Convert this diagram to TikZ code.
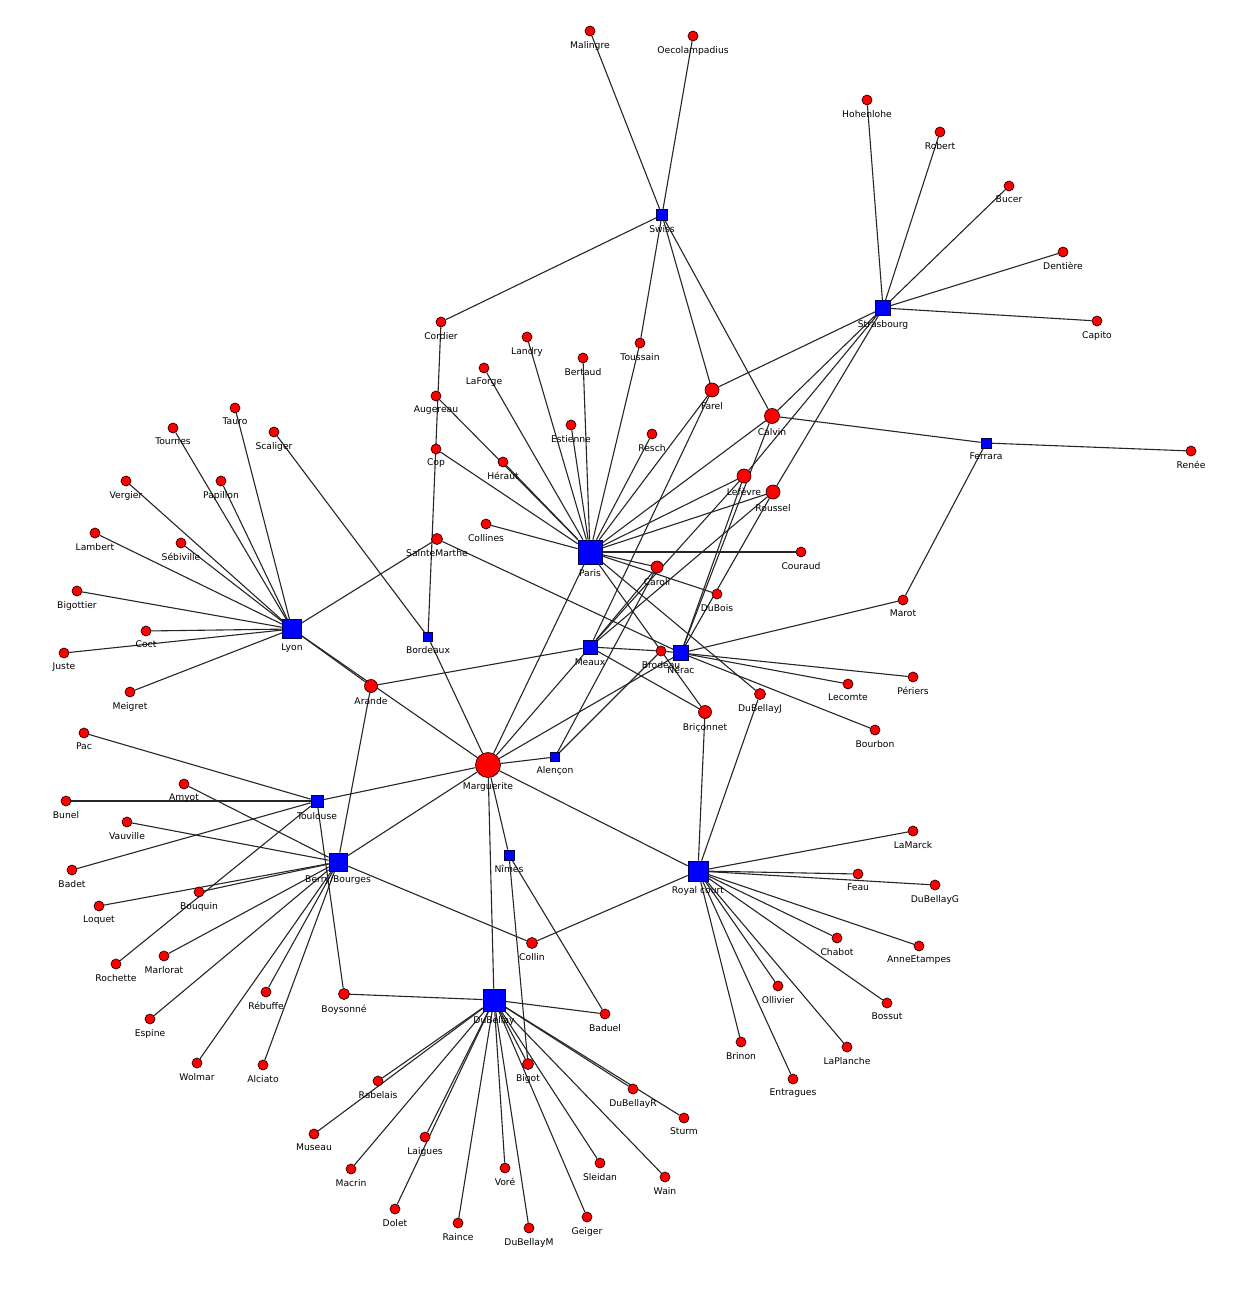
\documentclass[tikz,border=0pt]{standalone}
\usepackage{fontspec}
\setmainfont{DejaVu Sans}
\usetikzlibrary{backgrounds}
\newcommand\lblfont{\fontsize{4.6}{5}\selectfont}
\begin{document}
\begin{tikzpicture}[x=0.5pt,y=-0.5pt,
  person/.style={circle, draw=black!85!red, line width=0.35pt, fill=red, inner sep=0pt, minimum size=#1},
  person/.default=5pt,
  place/.style={rectangle, draw=black!70!blue, line width=0.35pt, fill=blue, inner sep=0pt, minimum size=#1},
  place/.default=5pt,
  tie/.style={draw=black!85, line width=0.55pt},
  every label/.style={font=\lblfont, inner sep=0pt, text=black},
  label distance=2.2pt]
\useasboundingbox (0,0) rectangle (1242,1316);
% places
\node[place=5.5pt, label=below:Swiss] (swiss) at (662,215) {};
\node[place=7.5pt, label=below:Strasbourg] (stras) at (883,308) {};
\node[place=5pt, label=below:Ferrara] (ferrara) at (986,443) {};
\node[place=12pt, label=below:Paris] (paris) at (590,552) {};
\node[place=4.5pt, label=below:Bordeaux] (bordeaux) at (428,637) {};
\node[place=9.5pt, label=below:Lyon] (lyon) at (292,629) {};
\node[place=7pt, label=below:Meaux] (meaux) at (590,647) {};
\node[place=7.5pt, label=below:Nérac] (nerac) at (681,653) {};
\node[place=4.5pt, label=below:Alençon] (alencon) at (555,757) {};
\node[place=6pt, label=below:Toulouse] (toulouse) at (317,801) {};
\node[place=9pt, label=below:Berry/Bourges] (bb) at (338,862) {};
\node[place=5pt, label=below:Nîmes] (nimes) at (509,855) {};
\node[place=10pt, label=below:Royal court] (royal) at (698,871) {};
\node[place=11pt, label=below:DuBellay] (dubellay) at (494,1000) {};
% persons
\node[person, label=below:Malingre] (malingre) at (590,31) {};
\node[person, label=below:Oecolampadius] (oeco) at (693,36) {};
\node[person, label=below:Cordier] (cordier) at (441,322) {};
\node[person, label=below:Landry] (landry) at (527,337) {};
\node[person, label=below:Toussain] (toussain) at (640,343) {};
\node[person, label=below:Bertaud] (bertaud) at (583,358) {};
\node[person, label=below:LaForge] (laforge) at (484,368) {};
\node[person=7pt, label=below:Farel] (farel) at (712,390) {};
\node[person, label=below:Augereau] (augereau) at (436,396) {};
\node[person=7.5pt, label=below:Calvin] (calvin) at (772,416) {};
\node[person, label=below:Estienne] (estienne) at (571,425) {};
\node[person, label=below:Resch] (resch) at (652,434) {};
\node[person, label=below:Cop] (cop) at (436,449) {};
\node[person, label=below:Héraut] (heraut) at (503,462) {};
\node[person=7pt, label=below:Lefèvre] (lefevre) at (744,476) {};
\node[person=7pt, label=below:Roussel] (roussel) at (773,492) {};
\node[person, label=below:Collines] (collines) at (486,524) {};
\node[person=5.5pt, label=below:SainteMarthe] (saintemarthe) at (437,539) {};
\node[person, label=below:Couraud] (couraud) at (801,552) {};
\node[person=6pt, label=below:Caroli] (caroli) at (657,567) {};
\node[person, label=below:DuBois] (dubois) at (717,594) {};
\node[person, label=below:Brodeau] (brodeau) at (661,651) {};
\node[person=6.5pt, label=below:Briçonnet] (briconnet) at (705,712) {};
\node[person=5.5pt, label=below:DuBellayJ] (dubellayj) at (760,694) {};
\node[person, label=below:Hohenlohe] (hohen) at (867,100) {};
\node[person, label=below:Robert] (robert) at (940,132) {};
\node[person, label=below:Bucer] (bucer) at (1009,186) {};
\node[person, label=below:Dentière] (dentiere) at (1063,252) {};
\node[person, label=below:Capito] (capito) at (1097,321) {};
\node[person, label=below:Renée] (renee) at (1191,451) {};
\node[person, label=below:Tauro] (tauro) at (235,408) {};
\node[person, label=below:Tournes] (tournes) at (173,428) {};
\node[person, label=below:Scaliger] (scaliger) at (274,432) {};
\node[person, label=below:Vergier] (vergier) at (126,481) {};
\node[person, label=below:Papillon] (papillon) at (221,481) {};
\node[person, label=below:Lambert] (lambert) at (95,533) {};
\node[person, label=below:Sébiville] (sebiville) at (181,543) {};
\node[person, label=below:Bigottier] (bigottier) at (77,591) {};
\node[person, label=below:Coct] (coct) at (146,631) {};
\node[person, label=below:Juste] (juste) at (64,653) {};
\node[person, label=below:Meigret] (meigret) at (130,692) {};
\node[person=6.5pt, label=below:Arande] (arande) at (371,686) {};
\node[person, label=below:Pac] (pac) at (84,733) {};
\node[person, label=below:Amyot] (amyot) at (184,784) {};
\node[person, label=below:Bunel] (bunel) at (66,801) {};
\node[person, label=below:Vauville] (vauville) at (127,822) {};
\node[person, label=below:Badet] (badet) at (72,870) {};
\node[person, label=below:Loquet] (loquet) at (99,906) {};
\node[person, label=below:Bouquin] (bouquin) at (199,892) {};
\node[person, label=below:Rochette] (rochette) at (116,964) {};
\node[person, label=below:Marlorat] (marlorat) at (164,956) {};
\node[person, label=below:Rébuffe] (rebuffe) at (266,992) {};
\node[person=5.5pt, label=below:Boysonné] (boysonne) at (344,994) {};
\node[person, label=below:Espine] (espine) at (150,1019) {};
\node[person, label=below:Wolmar] (wolmar) at (197,1063) {};
\node[person, label=below:Alciato] (alciato) at (263,1065) {};
\node[person=12.5pt, label=below:Marguerite] (marguerite) at (488,765) {};
\node[person=5.5pt, label=below:Collin] (collin) at (532,943) {};
\node[person, label=below:Baduel] (baduel) at (605,1014) {};
\node[person=5.5pt, label=below:Bigot] (bigot) at (528,1064) {};
\node[person, label=below:Rabelais] (rabelais) at (378,1081) {};
\node[person, label=below:DuBellayR] (dubellayr) at (633,1089) {};
\node[person, label=below:Sturm] (sturm) at (684,1118) {};
\node[person, label=below:Museau] (museau) at (314,1134) {};
\node[person, label=below:Laigues] (laigues) at (425,1137) {};
\node[person, label=below:Macrin] (macrin) at (351,1169) {};
\node[person, label=below:Voré] (vore) at (505,1168) {};
\node[person, label=below:Sleidan] (sleidan) at (600,1163) {};
\node[person, label=below:Wain] (wain) at (665,1177) {};
\node[person, label=below:Dolet] (dolet) at (395,1209) {};
\node[person, label=below:Raince] (raince) at (458,1223) {};
\node[person, label=below:DuBellayM] (dubellaym) at (529,1228) {};
\node[person, label=below:Geiger] (geiger) at (587,1217) {};
\node[person, label=below:Marot] (marot) at (903,600) {};
\node[person, label=below:Périers] (periers) at (913,677) {};
\node[person, label=below:Lecomte] (lecomte) at (848,684) {};
\node[person, label=below:Bourbon] (bourbon) at (875,730) {};
\node[person, label=below:LaMarck] (lamarck) at (913,831) {};
\node[person, label=below:Feau] (feau) at (858,874) {};
\node[person, label=below:DuBellayG] (dubellayg) at (935,885) {};
\node[person, label=below:Chabot] (chabot) at (837,938) {};
\node[person, label=below:AnneEtampes] (anneetampes) at (919,946) {};
\node[person, label=below:Ollivier] (ollivier) at (778,986) {};
\node[person, label=below:Bossut] (bossut) at (887,1003) {};
\node[person, label=below:Brinon] (brinon) at (741,1042) {};
\node[person, label=below:LaPlanche] (laplanche) at (847,1047) {};
\node[person, label=below:Entragues] (entragues) at (793,1079) {};
% ties
\begin{pgfonlayer}{background}
\foreach \p in {malingre,oeco,cordier,toussain,farel,calvin} \draw[tie] (swiss) -- (\p);
\foreach \p in {hohen,robert,bucer,dentiere,capito,farel,calvin,lefevre,roussel} \draw[tie] (stras) -- (\p);
\foreach \p in {calvin,renee,marot} \draw[tie] (ferrara) -- (\p);
\foreach \p in {cop,augereau,heraut,laforge,landry,estienne,bertaud,toussain,resch,farel,calvin,lefevre,roussel,collines,couraud,caroli,dubois,dubellayj,briconnet,marguerite} \draw[tie] (paris) -- (\p);
\foreach \p in {cordier,scaliger,marguerite} \draw[tie] (bordeaux) -- (\p);
\foreach \p in {tauro,tournes,papillon,vergier,sebiville,lambert,bigottier,coct,juste,meigret,saintemarthe,arande,marguerite} \draw[tie] (lyon) -- (\p);
\foreach \p in {farel,lefevre,roussel,caroli,arande,marguerite,brodeau,briconnet} \draw[tie] (meaux) -- (\p);
\foreach \p in {calvin,lefevre,roussel,saintemarthe,brodeau,marguerite,marot,periers,lecomte,bourbon} \draw[tie] (nerac) -- (\p);
\foreach \p in {marguerite,caroli,brodeau} \draw[tie] (alencon) -- (\p);
\foreach \p in {pac,bunel,badet,rochette,boysonne,marguerite} \draw[tie] (toulouse) -- (\p);
\foreach \p in {amyot,vauville,loquet,bouquin,marlorat,espine,wolmar,rebuffe,alciato,arande,marguerite,collin} \draw[tie] (bb) -- (\p);
\foreach \p in {marguerite,bigot,baduel} \draw[tie] (nimes) -- (\p);
\foreach \p in {marguerite,collin,briconnet,dubellayj,lamarck,feau,dubellayg,chabot,anneetampes,ollivier,bossut,laplanche,brinon,entragues} \draw[tie] (royal) -- (\p);
\foreach \p in {marguerite,boysonne,baduel,bigot,rabelais,museau,macrin,laigues,dolet,raince,vore,dubellaym,geiger,sleidan,wain,sturm,dubellayr} \draw[tie] (dubellay) -- (\p);
\end{pgfonlayer}
\end{tikzpicture}
\end{document}
